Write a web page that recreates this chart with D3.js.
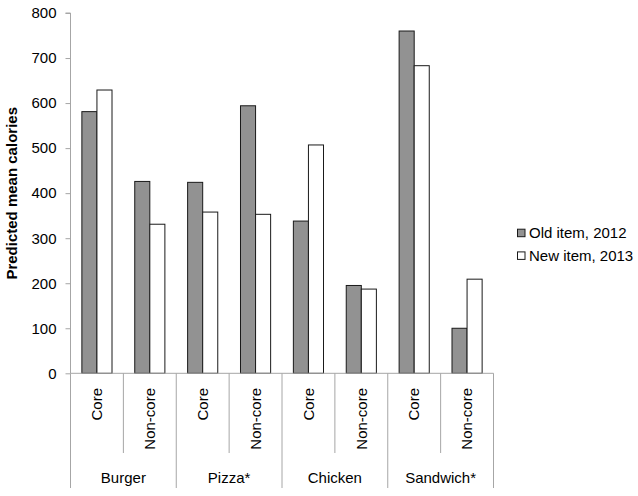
<!DOCTYPE html>
<html>
<head>
<meta charset="utf-8">
<script src="https://cdn.jsdelivr.net/npm/d3@7"></script>
<style>
  body { margin: 0; background: #fff; }
  text { font-family: "Liberation Sans", Arial, sans-serif; fill: #000; }
</style>
</head>
<body>
<svg id="chart" width="638" height="496"></svg>
<script>
const groups = ["Burger", "Pizza*", "Chicken", "Sandwich*"];
const subcats = ["Core", "Non-core"];
const seriesNames = ["Old item, 2012", "New item, 2013"];
const oldItem2012 = [581, 426, 424, 594, 338, 195, 760, 100];
const newItem2013 = [629, 331, 358, 353, 507, 187, 683, 209];
const yTicks = [0, 100, 200, 300, 400, 500, 600, 700, 800];

const colors = ["#929292", "#ffffff"];
const axisColor = "#a6a6a6";

const svg = d3.select("#chart");
const mLeft = 70.5, mRight = 493.5, mTop = 13, mBottom = 373.3;

const cells = [];
groups.forEach(g => subcats.forEach(s => cells.push(g + "|" + s)));

const x = d3.scaleBand().domain(cells).range([mLeft, mRight]).padding(0);
const xg = d3.scaleBand().domain(groups).range([mLeft, mRight]).padding(0);
const y = d3.scaleLinear().domain([0, 800]).range([mBottom, mTop]);
const barW = x.bandwidth() * 0.285;

// y axis
const yAxis = d3.axisLeft(y).tickValues(yTicks).tickSize(5).tickPadding(9);
const ya = svg.append("g").attr("transform", `translate(${mLeft},0)`).call(yAxis);
ya.select(".domain").attr("stroke", axisColor).attr("d", `M-5,${mTop}H0V${mBottom}`);
ya.selectAll(".tick line").attr("stroke", axisColor);
ya.selectAll(".tick text").style("font-size", "15px").style("font-family", "Liberation Sans, Arial, sans-serif").attr("fill", "#000");

// bars
const data = cells.map((c, i) => ({ c, v: [oldItem2012[i], newItem2013[i]] }));
const bg = svg.append("g");
data.forEach(d => {
  const cx = x(d.c) + x.bandwidth() / 2;
  d.v.forEach((v, k) => {
    bg.append("rect")
      .attr("x", cx - barW + k * barW)
      .attr("y", y(v))
      .attr("width", barW)
      .attr("height", y(0) - y(v))
      .attr("fill", colors[k])
      .attr("stroke", "#1a1a1a")
      .attr("stroke-width", 1);
  });
});

// x axis line
svg.append("line").attr("x1", mLeft).attr("x2", mRight).attr("y1", mBottom).attr("y2", mBottom)
  .attr("stroke", axisColor).attr("stroke-width", 1);

// category divider lines
cells.forEach((c, i) => {
  const xx = x(c);
  const isGroup = i % 2 === 0;
  svg.append("line").attr("x1", xx).attr("x2", xx).attr("y1", mBottom).attr("y2", isGroup ? 488 : 453)
    .attr("stroke", axisColor);
});
svg.append("line").attr("x1", mRight).attr("x2", mRight).attr("y1", mBottom).attr("y2", 488).attr("stroke", axisColor);

// subcategory labels
cells.forEach(c => {
  const cx = x(c) + x.bandwidth() / 2;
  svg.append("text")
    .attr("transform", `translate(${cx},388) rotate(-90)`)
    .attr("text-anchor", "end")
    .attr("dy", "0.35em")
    .style("font-size", "15px")
    .text(c.split("|")[1]);
});

// group labels
groups.forEach(g => {
  svg.append("text")
    .attr("x", xg(g) + xg.bandwidth() / 2)
    .attr("y", 482.5)
    .attr("text-anchor", "middle")
    .style("font-size", "15px")
    .text(g);
});

// y label
svg.append("text")
  .attr("transform", `translate(17,193.3) rotate(-90)`)
  .attr("text-anchor", "middle")
  .style("font-size", "15px")
  .style("font-weight", "bold")
  .text("Predicted mean calories");

// legend
const lg = svg.append("g");
seriesNames.forEach((s, k) => {
  const yy = 233 + k * 22.7;
  lg.append("rect").attr("x", 517.5).attr("y", yy - 3.8).attr("width", 7.5).attr("height", 7.5)
    .attr("fill", colors[k]).attr("stroke", "#1a1a1a").attr("stroke-width", 1);
  lg.append("text").attr("x", 529).attr("y", yy).attr("dy", "0.35em")
    .style("font-size", "15px").text(s);
});
</script>
</body>
</html>
